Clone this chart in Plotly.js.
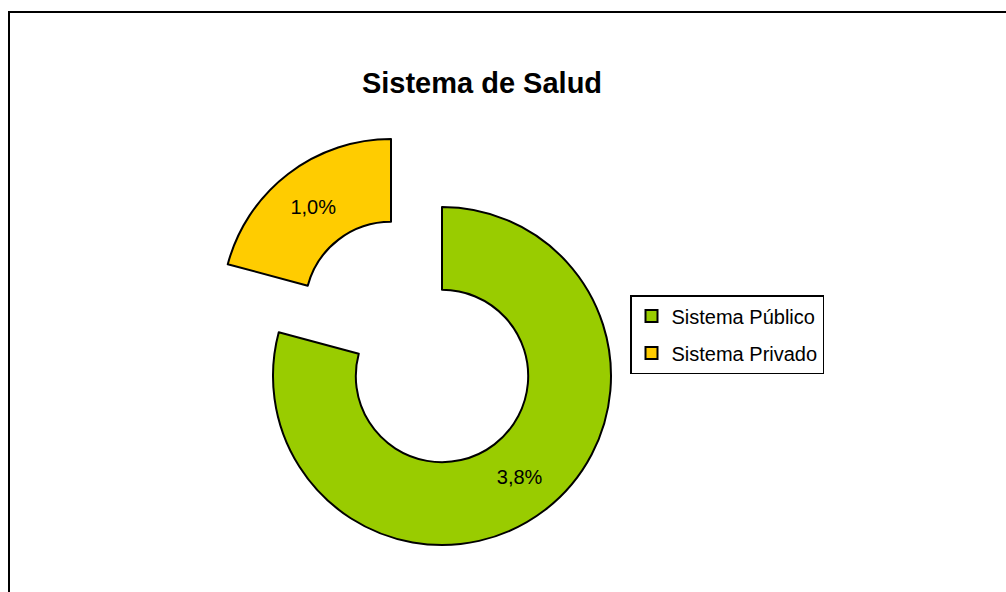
<!DOCTYPE html>
<html>
<head>
<meta charset="utf-8">
<script src="https://cdn.plot.ly/plotly-3.0.1.min.js"></script>
<style>html,body{margin:0;padding:0;background:#fff;overflow:hidden}#chart{width:1006px;height:592px}</style>
</head>
<body>
<div id="chart"></div>
<script>
// Data
const categories = ['Sistema Público', 'Sistema Privado'];
const values = [3.8, 1.0];
const sliceColors = ['#99CC00', '#FFCC00'];
const chartTitle = 'Sistema de Salud';

const pctText = values.map(v => v.toFixed(1).replace('.', ',') + '%');
const W = 1006, H = 592;
const FONT = 'Liberation Sans, Arial, sans-serif';
const CLEAR = 'rgba(0,0,0,0)';

function dom(cx, cy, r) {
  return { x: [(cx - r) / W, (cx + r) / W], y: [1 - (cy + r) / H, 1 - (cy - r) / H] };
}

const R = 169;
const main = { cx: 442, cy: 376 };
const pulled = { cx: 391, cy: 308 };

const common = {
  type: 'pie', sort: false, direction: 'clockwise', rotation: 0, hole: 0.51,
  values: values, labels: categories, textinfo: 'text', textposition: 'inside',
  insidetextorientation: 'horizontal', hoverinfo: 'label+percent',
  textfont: { family: FONT, size: 20, color: '#000' }
};

const traces = [];
// legend-only traces (hidden under the green ring)
categories.forEach((c, i) => {
  traces.push({
    type: 'pie', sort: false, values: [values[i]], labels: [c], textinfo: 'none',
    legendgroup: 'g' + i, showlegend: true,
    marker: { colors: [sliceColors[i]], line: { color: '#000', width: 2 } },
    domain: dom(main.cx, main.cy + 127, 4), hoverinfo: 'skip'
  });
});
// main ring (Sistema Público)
traces.push(Object.assign({}, common, {
  showlegend: false,
  text: pctText.map((t, i) => i === 0 ? t : ''),
  marker: { colors: sliceColors.map((c, i) => i === 0 ? c : CLEAR),
            line: { color: '#000', width: categories.map((c, i) => i === 0 ? 2 : 0) } },
  domain: dom(main.cx, main.cy, R)
}));
// pulled-out slice (Sistema Privado)
traces.push(Object.assign({}, common, {
  showlegend: false,
  text: pctText.map((t, i) => i === 1 ? t : ''),
  marker: { colors: sliceColors.map((c, i) => i === 1 ? c : CLEAR),
            line: { color: '#000', width: categories.map((c, i) => i === 1 ? 2 : 0) } },
  domain: dom(pulled.cx, pulled.cy, R)
}));

const layout = {
  width: W, height: H,
  margin: { l: 0, r: 0, t: 0, b: 0 },
  paper_bgcolor: '#fff', plot_bgcolor: '#fff',
  font: { family: FONT, color: '#000' },
  title: { text: chartTitle, x: 482 / W, xanchor: 'center', y: 1 - 83 / H, yanchor: 'middle',
           font: { family: FONT, size: 29, weight: 'bold', color: '#000' } },
  showlegend: true,
  legend: {
    x: 630 / W, y: 1 - 295 / H, xanchor: 'left', yanchor: 'top',
    bgcolor: '#fff', bordercolor: '#000', borderwidth: 1.5,
    font: { family: FONT, size: 20, color: '#000' },
    traceorder: 'grouped', tracegroupgap: 8
  },
  shapes: [{
    type: 'rect', xref: 'paper', yref: 'paper',
    x0: 9 / W, x1: 1.02, y0: -0.02, y1: 1 - 12 / H,
    line: { color: '#000', width: 2 }, fillcolor: 'rgba(0,0,0,0)'
  }]
};

Plotly.newPlot('chart', traces, layout, { displayModeBar: false, staticPlot: true });
</script>
</body>
</html>
